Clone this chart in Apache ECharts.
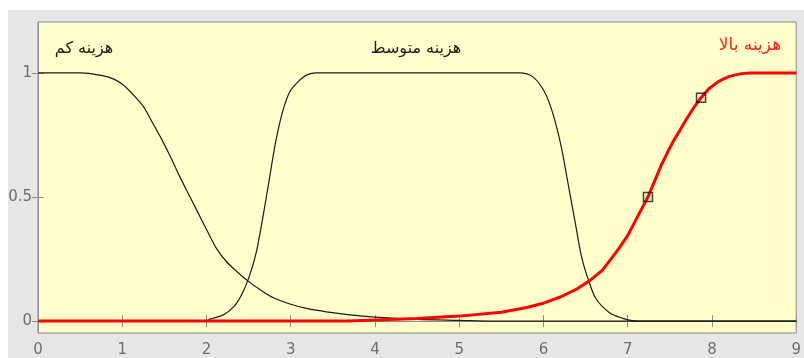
<!DOCTYPE html>
<html>
<head>
<meta charset="utf-8">
<script src="https://cdn.jsdelivr.net/npm/echarts@6/dist/echarts.min.js"></script>
<style>
  html, body { margin: 0; padding: 0; background: #ffffff; }
  #chart { width: 804px; height: 358px; }
</style>
</head>
<body>
<div id="chart"></div>
<script>
// Membership functions: low, medium and high cost
const lowCost = [
  [0, 1], [0.5, 1], [0.75, 0.99], [0.9, 0.975], [1.01, 0.952], [1.13, 0.912],
  [1.25, 0.865], [1.35, 0.805], [1.47, 0.731], [1.57, 0.664], [1.68, 0.584],
  [1.8, 0.503], [1.9, 0.436], [2.02, 0.356], [2.12, 0.292], [2.24, 0.238],
  [2.36, 0.2], [2.49, 0.162], [2.63, 0.128], [2.8, 0.093], [3.0, 0.068],
  [3.2, 0.05], [3.45, 0.036], [3.7, 0.025], [4.0, 0.016], [4.5, 0.007],
  [5.0, 0.003], [5.4, 0], [9, 0]
];
const mediumCost = [
  [0, 0], [2.0, 0], [2.04, 0.008], [2.2, 0.025], [2.33, 0.06], [2.43, 0.115],
  [2.51, 0.182], [2.59, 0.276], [2.67, 0.42], [2.75, 0.58], [2.82, 0.72],
  [2.9, 0.84], [2.99, 0.925], [3.11, 0.972], [3.2, 0.993], [3.3, 1],
  [5.72, 1], [5.87, 0.985], [6.01, 0.925], [6.11, 0.838], [6.21, 0.704],
  [6.29, 0.557], [6.37, 0.41], [6.45, 0.262], [6.53, 0.169], [6.62, 0.092],
  [6.78, 0.035], [6.94, 0.011], [7.05, 0.002], [7.14, 0], [9, 0]
];
const highCost = [
  [0, 0], [3.7, 0], [4.0, 0.004], [4.5, 0.01], [5.0, 0.02], [5.5, 0.036],
  [5.8, 0.055], [6.0, 0.072], [6.2, 0.097], [6.4, 0.13], [6.55, 0.163],
  [6.7, 0.205], [6.8, 0.25], [6.9, 0.295], [7.0, 0.345], [7.1, 0.41],
  [7.17, 0.455], [7.24, 0.5], [7.32, 0.565], [7.4, 0.63], [7.48, 0.685],
  [7.55, 0.73], [7.63, 0.775], [7.7, 0.815], [7.78, 0.858], [7.87, 0.9],
  [7.96, 0.935], [8.05, 0.959], [8.13, 0.975], [8.2, 0.985], [8.28, 0.992],
  [8.35, 0.997], [8.46, 1], [9, 1]
];
const markedPoints = [[7.24, 0.5], [7.87, 0.9]];

const xTicks = [0, 1, 2, 3, 4, 5, 6, 7, 8, 9];
const yTicks = [0, 0.5, 1];
const setNames = ['هزینه کم', 'هزینه متوسط', 'هزینه بالا'];

const axisGrey = '#8c8c8c';
const labelGrey = '#6e6e6e';
const fontFamily = 'DejaVu Sans, Liberation Sans, sans-serif';

const chart = echarts.init(document.getElementById('chart'), null, { renderer: 'canvas' });

const xBase = {
  type: 'value', min: 0, max: 9, interval: 1,
  axisLine: { show: true, lineStyle: { color: axisGrey, width: 1 } },
  axisTick: { show: true, inside: true, length: 6, lineStyle: { color: axisGrey } },
  splitLine: { show: false }
};
const yBase = {
  type: 'value', min: -0.048, max: 1.205,
  axisLine: { show: true, lineStyle: { color: axisGrey, width: 1 } },
  axisTick: { show: true, inside: true, length: 6, customValues: yTicks, lineStyle: { color: axisGrey } },
  splitLine: { show: false }
};

chart.setOption({
  animation: false,
  backgroundColor: '#ffffff',
  graphic: [
    { type: 'rect', z: -10, shape: { x: 8, y: 10, width: 796, height: 348 }, style: { fill: '#e6e6e6' }, silent: true },
    { type: 'text', z: 100, x: 84, y: 49, style: { text: setNames[0], fill: '#1a1a1a', font: '16px ' + fontFamily, textAlign: 'center', textVerticalAlign: 'middle' } },
    { type: 'text', z: 100, x: 416, y: 49, style: { text: setNames[1], fill: '#1a1a1a', font: '16px ' + fontFamily, textAlign: 'center', textVerticalAlign: 'middle' } },
    { type: 'text', z: 100, x: 750, y: 46, style: { text: setNames[2], fill: '#ff2020', font: '17px ' + fontFamily, textAlign: 'center', textVerticalAlign: 'middle' } }
  ],
  grid: {
    left: 38, right: 7, top: 22, bottom: 24,
    show: true, backgroundColor: '#fffdc9', borderColor: axisGrey, borderWidth: 1
  },
  xAxis: [
    Object.assign({}, xBase, {
      position: 'bottom',
      axisLabel: { show: true, color: labelGrey, fontSize: 15, fontFamily: fontFamily, margin: 10,
        formatter: v => (xTicks.indexOf(v) >= 0 ? String(v) : '') }
    }),
    Object.assign({}, xBase, { position: 'top', axisLabel: { show: false } })
  ],
  yAxis: [
    Object.assign({}, yBase, {
      position: 'left',
      axisLabel: { show: true, color: labelGrey, fontSize: 15, fontFamily: fontFamily, margin: 6,
        customValues: yTicks, formatter: v => String(v) }
    }),
    Object.assign({}, yBase, { position: 'right', axisLabel: { show: false } })
  ],
  series: [
    { name: setNames[0], type: 'line', data: lowCost, showSymbol: false, smooth: 0.3,
      lineStyle: { color: '#1a1a1a', width: 1.2 }, z: 2 },
    { name: setNames[1], type: 'line', data: mediumCost, showSymbol: false, smooth: 0.3,
      lineStyle: { color: '#1a1a1a', width: 1.2 }, z: 2 },
    { name: setNames[2], type: 'line', data: highCost, showSymbol: false, smooth: false,
      lineStyle: { color: '#ff0000', width: 3, join: 'round' }, z: 3 },
    {
      type: 'scatter', data: markedPoints, symbol: 'rect', symbolSize: 9,
      itemStyle: { color: 'rgba(0,0,0,0)', borderColor: '#111111', borderWidth: 1.5 }, z: 4
    }
  ]
});
</script>
</body>
</html>
